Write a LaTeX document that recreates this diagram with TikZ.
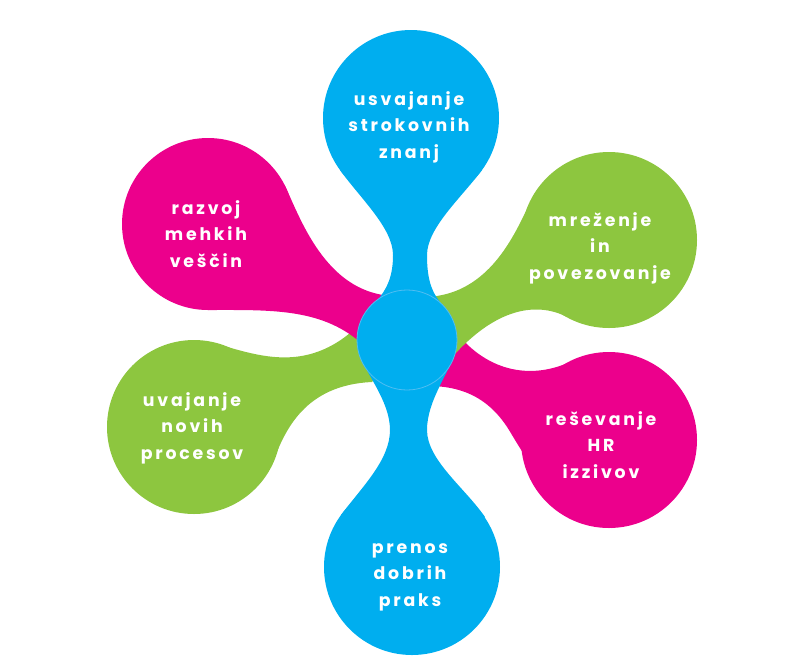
\documentclass[tikz,border=0pt]{standalone}
\usepackage{fontspec}
\setmainfont{Poppins}[LetterSpace=16]

\definecolor{petalblue}{RGB}{0,174,239}
\definecolor{petalpink}{RGB}{236,0,140}
\definecolor{petalgreen}{RGB}{141,198,63}
\definecolor{hubrim}{RGB}{80,190,242}

\begin{document}
\begin{tikzpicture}[x=0.75pt,y=-0.75pt,
  petaltext/.style={text=white,align=center,
    font=\fontsize{13}{19.9}\selectfont\bfseries}]
  \useasboundingbox (0,0) rectangle (800,669);

  \fill[petalgreen] (194,427) circle (87);
  \fill[petalgreen] (217,344) .. controls (260,356) and (310,375) .. (362,322)
    -- (407,340) -- (372,382) .. controls (305,385) and (285,430) .. (273,462)
    -- (194,427) -- cycle;

  \fill[petalpink] (208,224) circle (86);
  \fill[petalpink] (285,186) .. controls (300,217) and (325,292) .. (392,296)
    -- (407,340) -- (360,342) .. controls (320,308) and (270,310) .. (208,310)
    -- (208,224) -- cycle;

  \fill[petalpink] (609,440) circle (88);
  \fill[petalpink] (570,362) .. controls (530,380) and (485,372) .. (452,327)
    -- (407,340) -- (425,386) .. controls (470,385) and (495,405) .. (512,435)
    .. controls (545,490) and (575,528) .. (612,528) -- (609,440) -- cycle;

  \fill[petalgreen] (609,240) circle (88);
  \fill[petalgreen] (537,190) .. controls (522,212) and (500,295) .. (425,297)
    -- (407,340) -- (455,354) .. controls (500,305) and (540,303) .. (567,317)
    -- (609,240) -- cycle;

  \fill[petalblue] (411,118) circle (88);
  \fill[petalblue] (340,170) .. controls (360,198) and (393,228) .. (393,255)
    .. controls (393,275) and (388,288) .. (376,302) -- (407,340)
    -- (440,302) .. controls (430,290) and (427,275) .. (427,255)
    .. controls (427,228) and (461,198) .. (482,170) -- (411,118) -- cycle;

  \fill[petalblue] (412,567) circle (88);
  \fill[petalblue] (407,340) -- (359,352) .. controls (364,372) and (390,400) .. (390,430)
    .. controls (390,460) and (362,487) .. (341,515) -- (412,567)
    -- (485,517) .. controls (465,488) and (427,460) .. (427,430)
    .. controls (427,400) and (450,372) .. (455,352) -- cycle;

  \filldraw[fill=petalblue,draw=hubrim,line width=0.6pt] (407,340) circle (50);

  \node[petaltext] (knowledge) at (409,127) {usvajanje\\strokovnih\\znanj};
  \node[petaltext] (softskills) at (206,234) {razvoj\\mehkih\\veščin};
  \node[petaltext] (networking) at (600,248) {mreženje\\in\\povezovanje};
  \node[petaltext] (processes) at (192,428) {uvajanje\\novih\\procesov};
  \node[petaltext] (challenges) at (601,445) {reševanje\\HR\\izzivov};
  \node[petaltext] (practices) at (410,577) {prenos\\dobrih\\praks};
\end{tikzpicture}
\end{document}
